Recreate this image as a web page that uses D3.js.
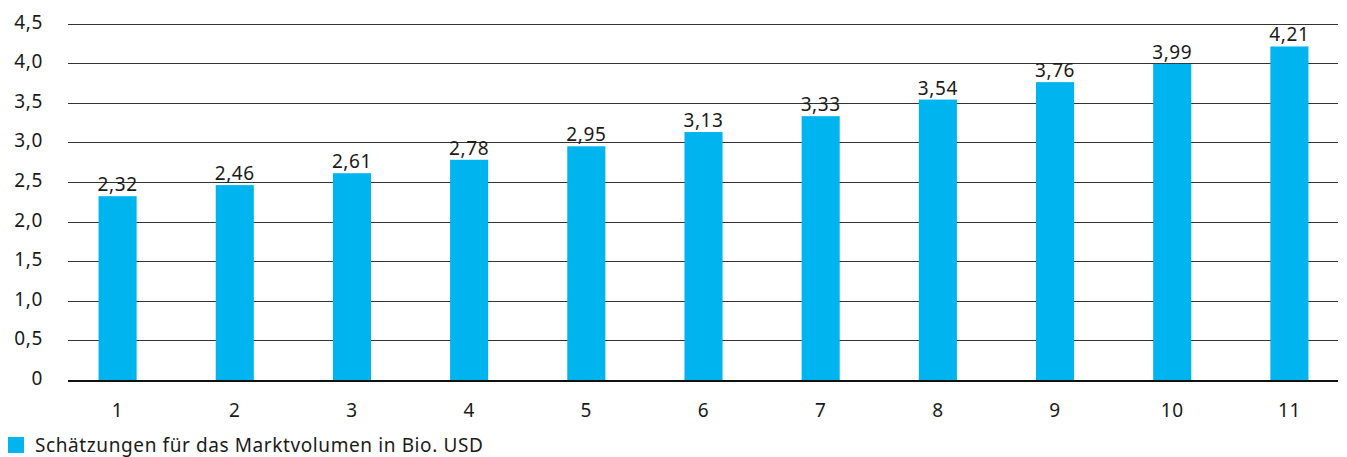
<!DOCTYPE html>
<html>
<head>
<meta charset="utf-8">
<script src="https://cdn.jsdelivr.net/npm/d3@7.9.0/dist/d3.min.js"></script>
<style>
  body { margin: 0; background: #fff; }
  svg text { font-family: "Noto Sans", sans-serif; fill: #1a1a1a; letter-spacing: 0.6px; }
</style>
</head>
<body>
<svg id="chart" width="1347" height="457"></svg>
<script>
const categories = ['1','2','3','4','5','6','7','8','9','10','11'];
const values = [2.32, 2.46, 2.61, 2.78, 2.95, 3.13, 3.33, 3.54, 3.76, 3.99, 4.21];
const yTicks = [0, 0.5, 1, 1.5, 2, 2.5, 3, 3.5, 4, 4.5];
const legendLabel = 'Schätzungen für das Marktvolumen in Bio. USD';

const svg = d3.select('#chart');
const fmt = v => v === 0 ? '0' : d3.format('.1f')(v).replace('.', ',');
const fmtVal = v => d3.format('.2f')(v).replace('.', ',');
const fs = 19;

let x = d3.scaleBand().domain(categories).range([59, 1348]).paddingInner(0.675).paddingOuter(0.3375);
let y = d3.scaleLinear().domain([0, 4.5]).range([380, 23.5]);

// grid
svg.append('g')
  .selectAll('line')
  .data(yTicks.filter(d => d > 0))
  .join('line')
  .attr('x1', 68).attr('x2', 1338)
  .attr('y1', d => Math.round(y(d)) + 0.5).attr('y2', d => Math.round(y(d)) + 0.5)
  .attr('stroke', '#333').attr('stroke-width', 1);

// y labels
svg.append('g')
  .selectAll('text')
  .data(yTicks)
  .join('text')
  .attr('x', 43).attr('y', d => y(d) + 5)
  .attr('text-anchor', 'end')
  .attr('font-size', fs)
  .text(fmt);

// bars
svg.append('g')
  .selectAll('rect')
  .data(values)
  .join('rect')
  .attr('x', (d, i) => x(categories[i]))
  .attr('width', x.bandwidth())
  .attr('y', d => y(d))
  .attr('height', d => y(0) - y(d))
  .attr('fill', '#00b5ef');

// value labels
svg.append('g')
  .selectAll('text')
  .data(values)
  .join('text')
  .attr('x', (d, i) => x(categories[i]) + x.bandwidth() / 2)
  .attr('y', d => y(d) - 5)
  .attr('text-anchor', 'middle')
  .attr('font-size', fs)
  .text(fmtVal);

// zero line
svg.append('line')
  .attr('x1', 68).attr('x2', 1338)
  .attr('y1', y(0) + 1).attr('y2', y(0) + 1)
  .attr('stroke', '#111').attr('stroke-width', 2);

// x labels
svg.append('g')
  .selectAll('text')
  .data(categories)
  .join('text')
  .attr('x', d => x(d) + x.bandwidth() / 2)
  .attr('y', 417)
  .attr('text-anchor', 'middle')
  .attr('font-size', fs)
  .text(d => d);

// legend
svg.append('rect').attr('x', 8).attr('y', 437).attr('width', 16).attr('height', 16).attr('fill', '#00b5ef');
svg.append('text').attr('x', 35).attr('y', 451.5).attr('font-size', fs).text(legendLabel);
</script>
</body>
</html>
